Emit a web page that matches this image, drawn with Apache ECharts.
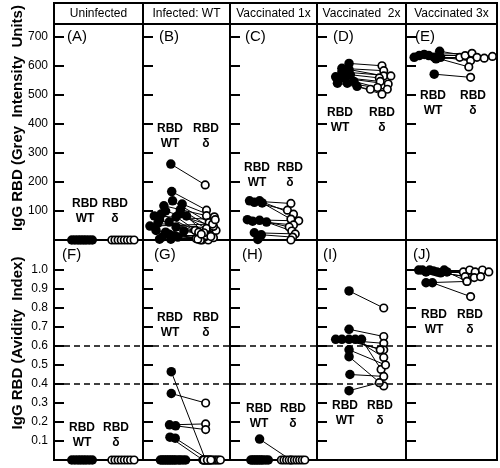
<!DOCTYPE html>
<html>
<head>
<meta charset="utf-8">
<script src="https://cdn.jsdelivr.net/npm/echarts@6/dist/echarts.min.js"></script>
<style>
  html, body { margin: 0; padding: 0; background: #fff; }
  #chart { width: 500px; height: 468px; }
</style>
</head>
<body>
<div id="chart"></div>
<script>
// column headings and panel letters
var groups = ['Uninfected', 'Infected: WT', 'Vaccinated 1x', 'Vaccinated  2x', 'Vaccinated 3x'];
var topLetters = ['(A)', '(B)', '(C)', '(D)', '(E)'];
var bottomLetters = ['(F)', '(G)', '(H)', '(I)', '(J)'];

// tick values of the two rows
var topTicks = [100, 200, 300, 400, 500, 600, 700];
var bottomTicks = [0.1, 0.2, 0.3, 0.4, 0.5, 0.6, 0.7, 0.8, 0.9, 1.0];
var thresholds = [0.4, 0.6];

// ---- top row: IgG RBD, grey intensity units ----
// (A) uninfected
var aWt = [0, 0, 0, 0, 0, 0, 0, 0];
var aDelta = [0, 0, 0, 0, 0, 0, 0, 0];
var aWtX = [2.0, 2.35, 2.7, 3.0, 3.3, 3.6, 3.95, 4.3];
var aDeltaX = [6.5, 6.85, 7.2, 7.55, 7.9, 8.25, 8.6, 9.0];
// (B) infected WT
var bWt = [262, 167, 124, 118, 135, 90, 90, 57, 62, 45, 33, 27, 10, 3, 105, 100, 80, 70, 20, 15, 48, 83, 3, 10, 83, 31];
var bDelta = [190, 103, 80, 84, 60, 33, 40, 40, 22, 17, 5, 0, 0, 8, 33, 47, 27, 10, 0, 15, 55, 25, 3, 12, 70, 20];
var bWtX = [3.2, 3.3, 4.5, 2.4, 3.4, 2.1, 4.2, 1.7, 3.0, 3.8, 1.5, 2.6, 2.2, 3.2, 4.3, 2.6, 3.8, 1.9, 3.0, 3.6, 0.8, 5.0, 1.9, 4.0, 1.3, 4.7];
var bDeltaX = [7.15, 7.3, 8.2, 7.3, 7.6, 6.0, 7.3, 8.1, 6.8, 7.5, 6.1, 6.8, 7.5, 8.1, 8.4, 8.1, 6.4, 7.1, 6.6, 7.3, 8.0, 7.0, 6.3, 7.8, 8.3, 6.7];
// (C) vaccinated 1x
var cWt = [135, 130, 135, 128, 70, 65, 68, 62, 25, 18, 2];
var cDelta = [126, 103, 89, 72, 66, 52, 45, 31, 21, 10, 0];
var cWtX = [2.25, 2.8, 3.4, 3.7, 2.0, 2.6, 3.4, 4.2, 2.8, 3.6, 3.2];
var cDeltaX = [7.0, 6.6, 7.3, 7.0, 7.9, 7.3, 6.8, 7.1, 7.5, 7.2, 7.0];
// (D) vaccinated 2x
var dWt = [609, 592, 588, 580, 570, 563, 558, 547, 541, 541, 530];
var dDelta = [601, 584, 566, 566, 559, 547, 538, 526, 520, 520, 503];
var dWtX = [3.6, 2.8, 3.6, 2.8, 3.75, 2.1, 3.0, 4.15, 2.3, 3.4, 4.5];
var dDeltaX = [7.3, 7.5, 7.5, 8.3, 7.0, 7.1, 8.0, 6.8, 6.0, 7.9, 7.3];
// (E) vaccinated 3x
var eWt = [630, 636, 640, 636, 630, 651, 630, 625, 572];
var eDelta = [630, 636, 644, 618, 597, 630, 627, 633, 561];
var eWtX = [0.9, 1.45, 2.0, 2.5, 3.1, 3.7, 3.8, 3.3, 3.1];
var eDeltaX = [5.9, 6.5, 7.25, 7.1, 6.9, 7.8, 8.6, 9.5, 7.1];

// ---- bottom row: IgG RBD, avidity index ----
// (F) uninfected
var fWt = [0, 0, 0, 0, 0, 0, 0, 0];
var fDelta = [0, 0, 0, 0, 0, 0, 0, 0];
var fWtX = [2.0, 2.35, 2.7, 3.0, 3.3, 3.6, 3.95, 4.3];
var fDeltaX = [6.5, 6.85, 7.2, 7.55, 7.9, 8.25, 8.6, 9.0];
// (G) infected WT
var gWt = [0.465, 0.35, 0.185, 0.18, 0.12, 0.115, 0, 0, 0, 0, 0, 0, 0, 0, 0, 0, 0, 0, 0, 0];
var gDelta = [0, 0.30, 0.19, 0.16, 0, 0, 0, 0, 0, 0, 0, 0, 0, 0, 0, 0, 0, 0, 0, 0];
var gWtX = [3.25, 3.25, 3.05, 3.75, 3.1, 3.7, 2.0, 2.2, 2.4, 2.6, 2.8, 3.0, 3.2, 3.4, 3.6, 3.8, 4.1, 4.3, 4.6, 4.9];
var gDeltaX = [7.2, 7.2, 7.2, 7.2, 6.9, 7.6, 6.9, 7.1, 7.3, 7.5, 7.7, 7.9, 8.1, 8.3, 8.5, 8.7, 8.9, 7.0, 7.4, 7.8];
// (H) vaccinated 1x
var hWt = [0.11, 0, 0, 0, 0, 0, 0, 0, 0, 0, 0];
var hDelta = [0, 0, 0, 0, 0, 0, 0, 0, 0, 0, 0];
var hWtX = [3.4, 2.4, 2.6, 2.8, 3.0, 3.2, 3.4, 3.6, 3.8, 4.1, 4.4];
var hDeltaX = [7.0, 5.9, 6.2, 6.5, 6.8, 7.1, 7.4, 7.7, 8.0, 8.3, 8.6];
// (I) vaccinated 2x
var iWt = [0.89, 0.688, 0.635, 0.635, 0.635, 0.635, 0.635, 0.58, 0.544, 0.45, 0.365];
var iDelta = [0.80, 0.65, 0.614, 0.58, 0.58, 0.54, 0.477, 0.50, 0.39, 0.44, 0.407];
var iWtX = [3.6, 3.6, 2.1, 2.8, 3.6, 4.3, 5.0, 3.6, 3.6, 3.7, 3.6];
var iDeltaX = [7.5, 7.5, 7.5, 7.5, 7.1, 7.5, 7.2, 7.7, 7.5, 7.5, 7.0];
// (J) vaccinated 3x
var jWt = [1.0, 1.0, 0.99, 1.0, 0.995, 0.99, 0.985, 1.0, 0.99, 0.933, 0.933];
var jDelta = [0.99, 1.0, 0.99, 1.0, 0.99, 0.965, 0.96, 0.965, 0.94, 0.94, 0.86];
var jWtX = [1.4, 1.8, 2.2, 2.6, 3.0, 3.4, 3.8, 4.2, 4.5, 2.2, 2.9];
var jDeltaX = [6.3, 7.0, 7.6, 8.4, 9.1, 6.5, 7.5, 8.2, 6.7, 6.7, 7.1];

var panels = [
  [aWt, aDelta, aWtX, aDeltaX], [bWt, bDelta, bWtX, bDeltaX], [cWt, cDelta, cWtX, cDeltaX],
  [dWt, dDelta, dWtX, dDeltaX], [eWt, eDelta, eWtX, eDeltaX],
  [fWt, fDelta, fWtX, fDeltaX], [gWt, gDelta, gWtX, gDeltaX], [hWt, hDelta, hWtX, hDeltaX],
  [iWt, iDelta, iWtX, iDeltaX], [jWt, jDelta, jWtX, jDeltaX]
];

// layout
var colEdges = [54, 143, 230, 317, 406, 497];
var rowTop = [24, 240];
var rowHeight = [216, 220];
var rowMax = [745, 1.158];
var letterDx = [[13, 16, 15, 16, 9], [8, 11, 12, 6, 7]];
var letterY = [37, 255];
// RBD label positions: [wt x, delta x, block centre y]
var rbdPos = [
  [85, 115, 211], [170, 206, 136], [257, 290, 175], [340, 382, 120], [433, 473, 103],
  [82, 116, 435], [170, 206, 325], [259, 293, 416], [345, 380, 413], [434, 470, 322]
];

var font = '"Liberation Sans", Arial, sans-serif';
var chart = echarts.init(document.getElementById('chart'));

var grids = [], xAxes = [], yAxes = [], series = [], graphics = [];

for (var r = 0; r < 2; r++) {
  for (var c = 0; c < 5; c++) {
    var k = r * 5 + c;
    grids.push({
      left: colEdges[c], top: rowTop[r],
      width: colEdges[c + 1] - colEdges[c], height: rowHeight[r],
      show: true, borderColor: '#000', borderWidth: 2, backgroundColor: 'transparent'
    });
    xAxes.push({ gridIndex: k, type: 'value', min: 0, max: 10, show: false });
    var ticks = r === 0 ? topTicks : bottomTicks;
    yAxes.push({
      gridIndex: k, type: 'value', min: 0, max: rowMax[r],
      axisLine: { show: false },
      splitLine: { show: false },
      axisTick: { show: true, inside: true, length: 10, customValues: ticks,
                  lineStyle: { color: '#000', width: 2 } },
      axisLabel: {
        show: c === 0, customValues: ticks, margin: 6,
        fontSize: 12, color: '#000', fontFamily: font,
        formatter: r === 0 ? function (v) { return String(v); } : function (v) { return v.toFixed(1); }
      }
    });

    var p = panels[k];
    var wt = p[0], dl = p[1], wx = p[2], dx = p[3];
    var links = wt.map(function (v, n) { return { coords: [[wx[n], v], [dx[n], dl[n]]] }; });
    var linkSeries = {
      type: 'lines', coordinateSystem: 'cartesian2d', xAxisIndex: k, yAxisIndex: k,
      data: links, z: 2, silent: true,
      lineStyle: { color: '#000', width: 1, opacity: 1 }
    };
    if (r === 1) {
      linkSeries.markLine = {
        silent: true, symbol: 'none', label: { show: false },
        lineStyle: { color: '#000', width: 1.5, type: [6, 4] },
        data: thresholds.map(function (t) { return { yAxis: t }; })
      };
    }
    series.push(linkSeries);
    series.push({
      type: 'scatter', xAxisIndex: k, yAxisIndex: k, clip: false, z: 3,
      symbol: 'circle', symbolSize: 9.5,
      itemStyle: { color: '#000', opacity: 1 },
      data: wt.map(function (v, n) { return [wx[n], v]; })
    });
    series.push({
      type: 'scatter', xAxisIndex: k, yAxisIndex: k, clip: false, z: 4,
      symbol: 'circle', symbolSize: 7.5,
      itemStyle: { color: '#fff', borderColor: '#000', borderWidth: 1.7, opacity: 1 },
      data: dl.map(function (v, n) { return [dx[n], v]; })
    });

    // panel letter
    graphics.push({
      type: 'text', x: colEdges[c] + letterDx[r][c], y: letterY[r],
      style: { text: (r === 0 ? topLetters : bottomLetters)[c], font: '15px ' + font,
               fill: '#000', textAlign: 'left', textVerticalAlign: 'middle' }
    });
    // RBD WT / RBD delta labels
    var lp = rbdPos[k];
    [['RBD\nWT', lp[0]], ['RBD\nδ', lp[1]]].forEach(function (t) {
      graphics.push({
        type: 'text', x: t[1], y: lp[2],
        style: { text: t[0], font: 'bold 12px ' + font, fill: '#000', lineHeight: 15,
                 textAlign: 'center', textVerticalAlign: 'middle' }
      });
    });
  }
}

// header boxes
for (var h = 0; h < 5; h++) {
  graphics.push({
    type: 'rect',
    shape: { x: colEdges[h], y: 3, width: colEdges[h + 1] - colEdges[h], height: 21 },
    style: { fill: '#fff', stroke: '#000', lineWidth: 2 }
  });
  graphics.push({
    type: 'text', x: (colEdges[h] + colEdges[h + 1]) / 2, y: 14,
    style: { text: groups[h], font: '12px ' + font, fill: '#000',
             textAlign: 'center', textVerticalAlign: 'middle' }
  });
}

// y axis titles
graphics.push({
  type: 'text', x: 18, y: 118, rotation: Math.PI / 2,
  style: { text: 'IgG RBD (Grey  Intensity  Units)', font: 'bold 15px ' + font, fill: '#000',
           textAlign: 'center', textVerticalAlign: 'middle' }
});
graphics.push({
  type: 'text', x: 18, y: 343, rotation: Math.PI / 2,
  style: { text: 'IgG RBD (Avidity  Index)', font: 'bold 15px ' + font, fill: '#000',
           textAlign: 'center', textVerticalAlign: 'middle' }
});

chart.setOption({
  backgroundColor: '#fff',
  animation: false,
  grid: grids,
  xAxis: xAxes,
  yAxis: yAxes,
  series: series,
  graphic: graphics
});
</script>
</body>
</html>
